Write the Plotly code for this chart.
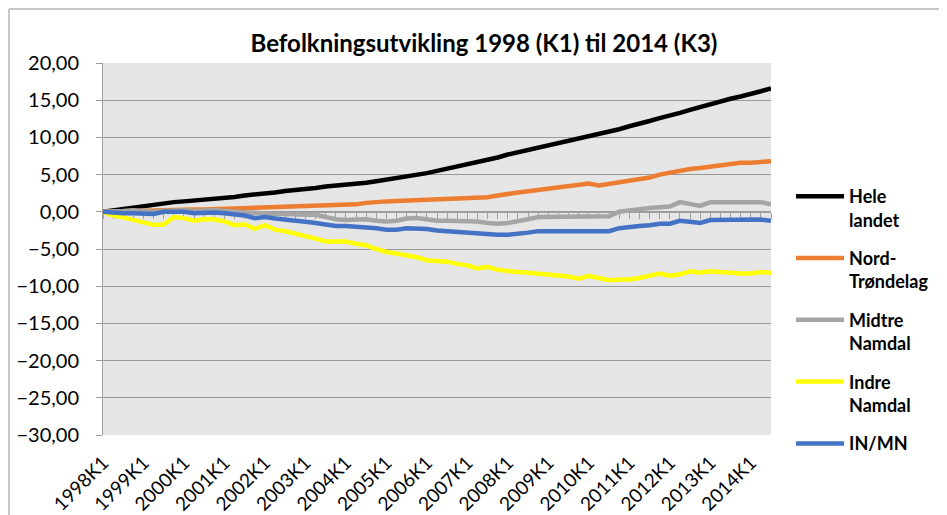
import plotly.graph_objects as go

quarters = [f"{y}K{q}" for y in range(1998, 2015) for q in range(1, 5)][:67]

hele_landet = [0.0, 0.2, 0.4, 0.6, 0.7, 0.9, 1.2, 1.3, 1.4, 1.5, 1.7, 1.8, 1.9, 2.0, 2.2, 2.3,
               2.5, 2.6, 2.8, 2.9, 3.1, 3.2, 3.4, 3.5, 3.6, 3.8, 3.9, 4.1, 4.3, 4.5, 4.7, 5.0,
               5.2, 5.5, 5.8, 6.0, 6.3, 6.6, 7.0, 7.3, 7.7, 8.0, 8.3, 8.6, 8.9, 9.2, 9.5, 9.8,
               10.1, 10.5, 10.8, 11.1, 11.5, 11.8, 12.2, 12.6, 12.9, 13.3, 13.7, 14.1, 14.4,
               14.8, 15.2, 15.5, 15.8, 16.2, 16.6]
nord_trondelag = [0.0, 0.05, 0.1, 0.1, 0.15, 0.2, 0.2, 0.25, 0.3, 0.3, 0.3, 0.35, 0.4, 0.4, 0.45,
                  0.5, 0.5, 0.55, 0.6, 0.65, 0.7, 0.7, 0.75, 0.8, 0.9, 1.0, 1.2, 1.35, 1.4, 1.45,
                  1.5, 1.6, 1.6, 1.6, 1.65, 1.75, 1.8, 1.8, 1.95, 2.2, 2.45, 2.6, 2.75, 2.95, 3.1,
                  3.3, 3.45, 3.6, 3.8, 3.55, 3.75, 3.95, 4.15, 4.35, 4.6, 5.0, 5.3, 5.55, 5.75,
                  5.9, 6.1, 6.2, 6.4, 6.6, 6.6, 6.65, 6.8]
midtre_namdal = [0.0, 0.0, 0.1, 0.2, 0.1, 0.0, 0.1, 0.2, 0.2, 0.1, 0.2, 0.2, 0.1, 0.0, -0.1, -0.2,
                 -0.2, -0.3, -0.3, -0.4, -0.4, -0.4, -0.7, -1.0, -1.1, -1.1, -1.0, -1.2, -1.3,
                 -1.2, -0.9, -0.85, -1.1, -1.2, -1.2, -1.2, -1.3, -1.3, -1.5, -1.6, -1.5, -1.3,
                 -1.0, -0.7, -0.7, -0.65, -0.6, -0.6, -0.6, -0.6, -0.6, 0.0, 0.2, 0.4, 0.5, 0.6,
                 0.7, 1.3, 1.0, 0.8, 1.3, 1.3, 1.3, 1.3, 1.4, 1.3, 1.0]
indre_namdal = [0.0, -0.5, -0.75, -1.1, -1.5, -1.75, -1.7, -0.7, -0.85, -1.2, -1.0, -1.0, -1.3,
                -1.8, -1.7, -2.3, -1.8, -2.4, -2.6, -2.9, -3.3, -3.6, -4.0, -4.0, -4.0, -4.3,
                -4.5, -5.0, -5.4, -5.6, -5.8, -6.1, -6.5, -6.6, -6.7, -7.0, -7.2, -7.6, -7.4,
                -7.8, -8.0, -8.1, -8.2, -8.3, -8.4, -8.5, -8.7, -9.0, -8.6, -8.9, -9.2, -9.1,
                -9.1, -8.9, -8.6, -8.3, -8.6, -8.4, -8.0, -8.2, -8.0, -8.1, -8.3, -8.3, -8.3,
                -8.1, -8.2]
in_mn = [0.0, -0.15, -0.2, -0.2, -0.25, -0.3, 0.0, 0.05, 0.0, -0.2, -0.1, -0.1, -0.2, -0.3, -0.5,
         -0.85, -0.7, -0.9, -1.0, -1.2, -1.35, -1.5, -1.7, -1.9, -1.9, -2.0, -2.0, -2.2, -2.4,
         -2.4, -2.2, -2.2, -2.3, -2.5, -2.6, -2.7, -2.8, -3.0, -3.0, -3.1, -3.1, -3.0, -2.8,
         -2.6, -2.6, -2.6, -2.55, -2.6, -2.6, -2.65, -2.6, -2.2, -2.0, -1.9, -1.8, -1.6, -1.6,
         -1.2, -1.35, -1.5, -1.1, -1.1, -1.1, -1.05, -1.0, -1.05, -1.2]

series_names = ["Hele<br>landet", "Nord-<br>Trøndelag", "Midtre<br>Namdal", "Indre<br>Namdal", "IN/MN"]
series_values = [hele_landet, nord_trondelag, midtre_namdal, indre_namdal, in_mn]
series_colors = ["#000000", "#ED7D31", "#A5A5A5", "#FFFF00", "#4472C4"]

y_ticks = [20, 15, 10, 5, 0, -5, -10, -15, -20, -25, -30]
x_labels = quarters[::4]

FONT = "Lato, Open Sans, sans-serif"

# page body has an 8px margin; figure sized to fit the 947x515 window
W, H = 939, 507
L, T, R, B = 95, 55, 176, 80
PW, PH = W - L - R, H - T - B

fig = go.Figure()
for i, (name, vals, col) in enumerate(zip(series_names, series_values, series_colors)):
    bold = "<b>" + name.replace("<br>", "</b><br><b>") + "</b>"
    fig.add_trace(go.Scatter(x=quarters, y=vals, name=bold, mode="lines",
                             legendgroup=f"g{i}",
                             line=dict(color=col, width=4.5)))

# invisible trace for the zero-crossing category axis
fig.add_trace(go.Scatter(x=quarters, y=[0] * len(quarters), xaxis="x2", mode="lines",
                         line=dict(width=0), showlegend=False, hoverinfo="skip"))

frame_left = -(L - 1) / PW
frame_top = (PH + T - 1) / PH

fig.update_layout(
    width=W, height=H,
    margin=dict(l=L, r=R, t=T, b=B, autoexpand=False),
    paper_bgcolor="white",
    plot_bgcolor="#E6E6E6",
    separators=", ",
    font=dict(family=FONT, color="#000000"),
    title=dict(text="<b>Befolkningsutvikling 1998 (K1) til 2014 (K3)</b>",
               x=(484 - 8) / W, xanchor="center", y=1 - (44 - 8) / H, yanchor="middle",
               font=dict(size=24, family=FONT, color="#000000")),
    xaxis=dict(type="category", categoryorder="array", categoryarray=quarters,
               range=[0, len(quarters) - 1], tickmode="array", tickvals=x_labels,
               ticktext=x_labels, tickangle=-45, ticks="", showgrid=False,
               showline=False, zeroline=False, ticklabelstandoff=12,
               tickfont=dict(size=19, family=FONT)),
    xaxis2=dict(type="category", overlaying="x", anchor="free", position=0.6,
                matches="x", side="bottom", showticklabels=False, showgrid=False,
                tickmode="array", tickvals=quarters, ticks="outside", ticklen=6,
                tickcolor="#A0A0A0", showline=True, linecolor="#A0A0A0", linewidth=1,
                layer="below traces"),
    yaxis=dict(range=[-30, 20], tickmode="array", tickvals=y_ticks, tickformat=".2f",
               showgrid=True, gridcolor="#999999", gridwidth=1, zeroline=False,
               showline=True, linecolor="#A0A0A0", ticks="outside", ticklen=6,
               tickcolor="#999999", ticklabelstandoff=13,
               tickfont=dict(size=20, family=FONT)),
    legend=dict(x=1.03, xanchor="left", y=(PH - (178 - 8 - T)) / PH, yanchor="top",
                valign="top", traceorder="grouped",
                font=dict(size=18, family=FONT, color="#000000"),
                tracegroupgap=12, itemwidth=48, bgcolor="rgba(0,0,0,0)"),
    shapes=[
        dict(type="line", xref="paper", yref="paper", x0=frame_left, x1=frame_left,
             y0=-0.3, y1=frame_top, line=dict(color="#B4B4B4", width=1.5), layer="above"),
        dict(type="line", xref="paper", yref="paper", x0=frame_left, x1=1.4,
             y0=frame_top, y1=frame_top, line=dict(color="#B4B4B4", width=1.5), layer="above"),
    ],
)

fig.write_html("out.html")
